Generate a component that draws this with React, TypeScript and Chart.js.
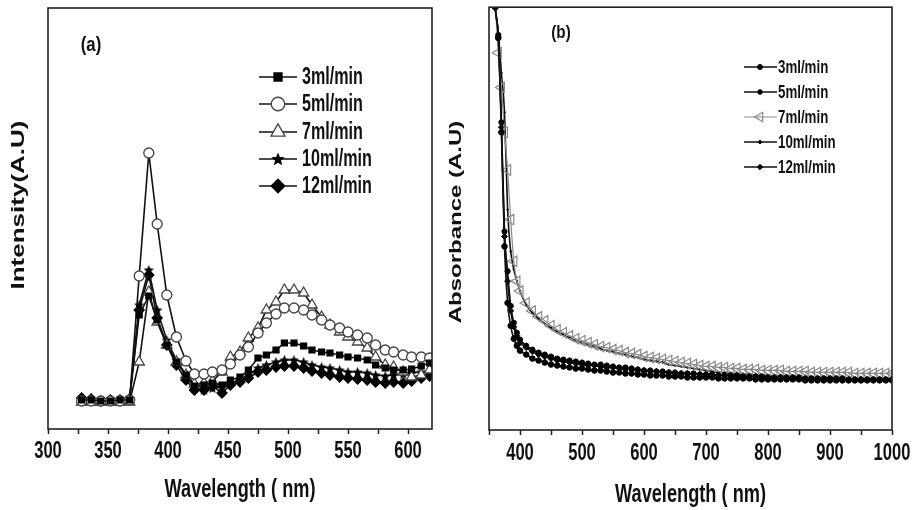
import React, { useEffect, useRef } from 'react';
import { Chart, registerables } from 'chart.js';
import { drawPoint } from 'chart.js/helpers';

Chart.register(...registerables);

// ---------- shared ----------
const SERIES_LABELS = ['3ml/min', '5ml/min', '7ml/min', '10ml/min', '12ml/min'];

// ---------- panel (a): photoluminescence ----------
const PL_WAVELENGTH = [328, 336, 344, 352, 360, 368, 376, 384, 391, 399, 407, 415, 422, 430, 437, 445, 452, 460, 467, 475, 482, 490, 497, 505, 513, 520, 528, 535, 543, 550, 558, 566, 573, 581, 588, 596, 603, 611, 618];
const PL_3 = [29, 29, 28, 28, 29, 29, 114, 133, 109, 84, 67, 54, 43, 44, 46, 44, 49, 52, 59, 71, 74, 79, 86, 86, 83, 79, 77, 76, 74, 72, 71, 69, 64, 61, 59, 59, 60, 63, 66];
const PL_5 = [28, 28, 28, 28, 28, 29, 153, 276, 205, 134, 92, 68, 55, 55, 57, 59, 65, 74, 82, 96, 106, 115, 121, 121, 119, 114, 109, 104, 101, 97, 94, 91, 84, 79, 77, 74, 72, 72, 71];
const PL_7 = [27, 27, 27, 27, 27, 27, 67, 137, 107, 84, 67, 54, 45, 46, 48, 57, 72, 77, 91, 101, 119, 127, 139, 139, 136, 124, 112, 104, 97, 92, 87, 81, 72, 64, 62, 57, 52, 54, 59];
const PL_10 = [30, 29, 28, 29, 29, 30, 124, 159, 119, 89, 69, 54, 41, 39, 41, 42, 46, 49, 54, 61, 64, 67, 69, 69, 67, 64, 62, 61, 59, 57, 57, 56, 54, 53, 54, 55, 56, 57, 57];
const PL_12 = [31, 30, 28, 29, 29, 30, 119, 154, 111, 84, 64, 49, 39, 39, 43, 36, 44, 47, 51, 57, 59, 62, 63, 63, 61, 58, 56, 54, 52, 51, 50, 49, 47, 46, 47, 46, 48, 51, 53];
const PL_TICK_LABELS = [300, 350, 400, 450, 500, 550, 600];

// ---------- panel (b): absorbance ----------
const ABS_WAVELENGTH = [355, 360, 365, 370, 375, 380, 385, 390, 395, 400,
  410, 420, 430, 440, 450, 460, 470, 480, 490, 500,
  510, 520, 530, 540, 550, 560, 570, 580, 590, 600,
  610, 620, 630, 640, 650, 660, 670, 680, 690, 700,
  710, 720, 730, 740, 750, 760, 770, 780, 790, 800,
  810, 820, 830, 840, 850, 860, 870, 880, 890, 900,
  910, 920, 930, 940, 950, 960, 970, 980, 990, 1000];
const ABS_3 = [480, 426, 395, 300, 185, 128, 105, 92, 85, 80,
  76, 72, 70, 68, 66, 65, 64, 63, 62, 62,
  61, 60, 60, 59, 58, 58, 57, 57, 56, 56,
  55, 55, 55, 54, 54, 54, 53, 53, 53, 53,
  53, 52, 52, 52, 52, 52, 52, 51, 51, 51,
  51, 51, 51, 51, 51, 50, 50, 50, 50, 50,
  50, 50, 50, 50, 50, 50, 50, 50, 50, 50];
const ABS_5 = [480, 426, 398, 310, 200, 160, 125, 108, 98, 91,
  85, 81, 78, 76, 74, 72, 71, 70, 69, 68,
  67, 66, 66, 65, 64, 63, 63, 62, 61, 60,
  60, 59, 59, 58, 58, 57, 57, 57, 56, 56,
  56, 55, 55, 55, 55, 54, 54, 54, 54, 53,
  53, 53, 53, 53, 53, 52, 52, 52, 52, 52,
  52, 52, 51, 51, 51, 51, 51, 51, 51, 51];
const ABS_7 = [480, 430, 380, 345, 300, 262, 212, 170, 150, 140,
  128, 120, 114, 110, 105, 101, 98, 95, 92, 90,
  88, 86, 84, 83, 81, 80, 78, 77, 76, 74,
  73, 72, 71, 70, 69, 68, 67, 66, 65, 64,
  64, 63, 63, 62, 62, 61, 61, 61, 60, 60,
  60, 60, 59, 59, 59, 59, 58, 58, 58, 58,
  58, 58, 58, 57, 57, 57, 57, 57, 57, 57];
const ABS_10 = [480, 426, 400, 360, 320, 222, 180, 162, 150, 140,
  126, 118, 112, 107, 103, 99, 96, 93, 90, 88,
  86, 84, 82, 80, 79, 77, 76, 74, 73, 71,
  70, 69, 68, 66, 65, 64, 63, 62, 61, 60,
  59, 58, 58, 57, 57, 56, 56, 55, 55, 55,
  54, 54, 54, 53, 53, 53, 53, 52, 52, 52,
  52, 52, 52, 51, 51, 51, 51, 51, 51, 51];
const ABS_12 = [480, 426, 396, 305, 195, 150, 120, 104, 95, 88,
  83, 79, 76, 74, 72, 70, 69, 68, 67, 66,
  65, 65, 64, 63, 63, 62, 61, 61, 60, 60,
  59, 59, 58, 58, 57, 57, 57, 56, 56, 56,
  55, 55, 55, 55, 54, 54, 54, 54, 53, 53,
  53, 53, 53, 52, 52, 52, 52, 52, 52, 52,
  51, 51, 51, 51, 51, 51, 51, 51, 51, 51];
const ABS_TICK_LABELS = [400, 500, 600, 700, 800, 900, 1000];

const SANS = "'Liberation Sans', Arial, sans-serif";

function toXY(xs: number[], ys: number[]) {
  return xs.map((x, i) => ({ x, y: ys[i] }));
}

function makeStar(r: number) {
  const size = Math.ceil(r * 2 + 2);
  const c = document.createElement('canvas');
  c.width = size;
  c.height = size;
  const ctx = c.getContext('2d')!;
  ctx.fillStyle = '#000';
  ctx.beginPath();
  const cx = size / 2, cy = size / 2 + 0.5;
  for (let i = 0; i < 10; i++) {
    const ang = -Math.PI / 2 + (i * Math.PI) / 5;
    const rad = i % 2 === 0 ? r : r * 0.45;
    const px = cx + rad * Math.cos(ang), py = cy + rad * Math.sin(ang);
    if (i === 0) ctx.moveTo(px, py); else ctx.lineTo(px, py);
  }
  ctx.closePath();
  ctx.fill();
  return c;
}

function drawCondensed(ctx: any, text: string, x: number, y: number, size: number, sx: number, vertical = false, align: CanvasTextAlign = 'center') {
  ctx.save();
  ctx.fillStyle = '#111';
  ctx.font = `bold ${size}px ${SANS}`;
  ctx.textAlign = align;
  ctx.textBaseline = 'middle';
  ctx.translate(x, y);
  if (vertical) {
    ctx.rotate(-Math.PI / 2);
    ctx.scale(1, sx);
  } else {
    ctx.scale(sx, 1);
  }
  ctx.fillText(text, 0, 0);
  ctx.restore();
}

const framePlugin = {
  id: 'frame',
  afterDraw(chart: any) {
    const { ctx, chartArea: a } = chart;
    ctx.save();
    ctx.strokeStyle = '#222';
    ctx.lineWidth = 1.6;
    ctx.strokeRect(a.left, a.top, a.right - a.left, a.bottom - a.top);
    ctx.restore();
  },
};

// draws the library's x-axis tick labels and the axis title in a condensed face
function makeAxisTextPlugin(labels: number[], labelY: number, title: string, titleY: number) {
  return {
    id: 'axisText',
    afterDraw(chart: any) {
      const ctx = chart.ctx;
      const xs = chart.scales.x;
      xs.ticks.forEach((t: any) => {
        if (!labels.includes(t.value)) return;
        drawCondensed(ctx, String(t.value), xs.getPixelForValue(t.value), labelY, 23, 0.72);
      });
      const a = chart.chartArea;
      drawCondensed(ctx, title, (a.left + a.right) / 2, titleY, 26, 0.7);
    },
  };
}

type LegendCfg = { x1: number; x2: number; mx: number; tx: number; rows: number[]; size: number; sx: number; markerScale: number; styles?: any[] };

function makeLegendPlugin(cfg: LegendCfg) {
  return {
    id: 'boxLegend',
    afterDraw(chart: any) {
      const ctx = chart.ctx;
      chart.data.datasets.forEach((ds: any, i: number) => {
        const y = cfg.rows[i];
        ctx.save();
        ctx.strokeStyle = ds.borderColor;
        ctx.lineWidth = ds.borderWidth;
        ctx.beginPath();
        ctx.moveTo(cfg.x1, y);
        ctx.lineTo(cfg.x2, y);
        ctx.stroke();
        ctx.fillStyle = ds.pointBackgroundColor;
        ctx.strokeStyle = ds.pointBorderColor;
        ctx.lineWidth = ds.pointBorderWidth;
        const style = cfg.styles && cfg.styles[i] ? cfg.styles[i] : ds.pointStyle;
        drawPoint(ctx, {
          pointStyle: style,
          rotation: ds.pointRotation || 0,
          radius: Math.max(ds.pointRadius * cfg.markerScale, 1.5),
          borderWidth: ds.pointBorderWidth,
        } as any, cfg.mx, y);
        ctx.restore();
        drawCondensed(ctx, ds.label, cfg.tx, y + 1, cfg.size, cfg.sx, false, 'left');
      });
    },
  };
}

type TextItem = { text: string; x: number; y: number; size: number; sx: number; vertical?: boolean };

function makeTextPlugin(items: TextItem[]) {
  return {
    id: 'texts',
    afterDraw(chart: any) {
      items.forEach((t) => drawCondensed(chart.ctx, t.text, t.x, t.y, t.size, t.sx, !!t.vertical));
    },
  };
}

function xAxis(min: number, max: number, step: number, height: number) {
  return {
    type: 'linear' as const,
    min,
    max,
    afterFit: (s: any) => { s.height = height; },
    border: { display: false },
    grid: { display: true, drawOnChartArea: false, drawTicks: true, tickLength: 5, tickWidth: 1.5, tickColor: '#222' },
    ticks: { display: false, stepSize: step, includeBounds: false, autoSkip: false, maxRotation: 0 },
    title: { display: false },
  };
}

export default function App() {
  const refA = useRef<HTMLCanvasElement>(null);
  const refB = useRef<HTMLCanvasElement>(null);

  useEffect(() => {
    const starPlot = makeStar(5.5);
    const starLegend = makeStar(7);

    const plLine = { borderColor: '#111', borderWidth: 1.6, tension: 0, pointBorderWidth: 1.3 };
    const chartA = new Chart(refA.current!, {
      type: 'line',
      data: {
        datasets: [
          { ...plLine, label: SERIES_LABELS[0], data: toXY(PL_WAVELENGTH, PL_3), pointStyle: 'rect', pointRadius: 4.2, pointBackgroundColor: '#000', pointBorderColor: '#000' },
          { ...plLine, label: SERIES_LABELS[1], data: toXY(PL_WAVELENGTH, PL_5), pointStyle: 'circle', pointRadius: 5, pointBackgroundColor: '#fff', pointBorderColor: '#444' },
          { ...plLine, label: SERIES_LABELS[2], data: toXY(PL_WAVELENGTH, PL_7), pointStyle: 'triangle', pointRadius: 6, pointBackgroundColor: '#fff', pointBorderColor: '#444' },
          { ...plLine, label: SERIES_LABELS[3], data: toXY(PL_WAVELENGTH, PL_10), pointStyle: starPlot, pointRadius: 5, pointBackgroundColor: '#000', pointBorderColor: '#000' },
          { ...plLine, label: SERIES_LABELS[4], data: toXY(PL_WAVELENGTH, PL_12), pointStyle: 'rectRot', pointRadius: 5, pointBackgroundColor: '#000', pointBorderColor: '#000' },
        ] as any,
      },
      options: {
        responsive: false,
        animation: false,
        events: [],
        layout: { padding: { top: 8, right: 8, left: 0, bottom: 0 } },
        plugins: { legend: { display: false }, tooltip: { enabled: false } },
        scales: {
          x: xAxis(300, 620, 25, 81) as any,
          y: { min: 0, max: 421, afterFit: (s: any) => { s.width = 48; }, ticks: { display: false }, grid: { display: false }, border: { display: false } },
        },
      },
      plugins: [
        framePlugin,
        makeAxisTextPlugin(PL_TICK_LABELS, 452, 'Wavelength ( nm)', 490),
        makeLegendPlugin({ x1: 259, x2: 297, mx: 278, tx: 302, rows: [77, 104, 132, 159, 186], size: 23, sx: 0.7, markerScale: 1.35, styles: [null, null, null, starLegend, null] }),
        makeTextPlugin([
          { text: '(a)', x: 91, y: 45, size: 21, sx: 0.8 },
          { text: 'Intensity(A.U)', x: 19, y: 205, size: 26, sx: 0.7, vertical: true },
        ]),
      ],
    });

    const absLine = { borderColor: '#111', borderWidth: 1.6, cubicInterpolationMode: 'monotone', pointBorderWidth: 1 };
    const chartB = new Chart(refB.current!, {
      type: 'line',
      data: {
        datasets: [
          { ...absLine, label: SERIES_LABELS[0], data: toXY(ABS_WAVELENGTH, ABS_3), pointStyle: 'circle', pointRadius: 2.8, pointBackgroundColor: '#000', pointBorderColor: '#000' },
          { ...absLine, label: SERIES_LABELS[1], data: toXY(ABS_WAVELENGTH, ABS_5), pointStyle: 'circle', pointRadius: 2.6, pointBackgroundColor: '#000', pointBorderColor: '#000' },
          { ...absLine, label: SERIES_LABELS[2], data: toXY(ABS_WAVELENGTH, ABS_7), borderColor: '#8a8a8a', borderWidth: 1.2, pointStyle: 'triangle', pointRotation: -90, pointRadius: 6, pointBorderWidth: 1.2, pointBackgroundColor: 'rgba(255,255,255,0)', pointBorderColor: '#8a8a8a' },
          { ...absLine, label: SERIES_LABELS[3], data: toXY(ABS_WAVELENGTH, ABS_10), pointStyle: 'circle', pointRadius: 0.8, pointBackgroundColor: '#000', pointBorderColor: '#000' },
          { ...absLine, label: SERIES_LABELS[4], data: toXY(ABS_WAVELENGTH, ABS_12), pointStyle: 'rectRot', pointRadius: 3, pointBackgroundColor: '#000', pointBorderColor: '#000' },
        ] as any,
      },
      options: {
        responsive: false,
        animation: false,
        events: [],
        layout: { padding: { top: 4, right: 20, left: 0, bottom: 0 } },
        plugins: { legend: { display: false }, tooltip: { enabled: false } },
        scales: {
          x: xAxis(350, 1000, 50, 80) as any,
          y: { min: 0, max: 426, afterFit: (s: any) => { s.width = 49; }, ticks: { display: false }, grid: { display: false }, border: { display: false } },
        },
      },
      plugins: [
        framePlugin,
        makeAxisTextPlugin(ABS_TICK_LABELS, 454, 'Wavelength ( nm)', 495),
        makeLegendPlugin({ x1: 304, x2: 337, mx: 320, tx: 338, rows: [67, 92, 117, 142, 167], size: 19, sx: 0.7, markerScale: 0.9 }),
        makeTextPlugin([
          { text: '(b)', x: 121, y: 33, size: 19, sx: 0.8 },
          { text: 'Absorbance (A.U)', x: 16, y: 222, size: 24, sx: 0.7, vertical: true },
        ]),
      ],
    });

    return () => {
      chartA.destroy();
      chartB.destroy();
    };
  }, []);

  return (
    <div style={{ position: 'absolute', left: 0, top: 0, width: 912, height: 510, background: '#fff', overflow: 'hidden' }}>
      <canvas ref={refA} width={440} height={510} style={{ position: 'absolute', left: 0, top: 0, width: 440, height: 510 }} />
      <canvas ref={refB} width={472} height={510} style={{ position: 'absolute', left: 440, top: 0, width: 472, height: 510 }} />
    </div>
  );
}
